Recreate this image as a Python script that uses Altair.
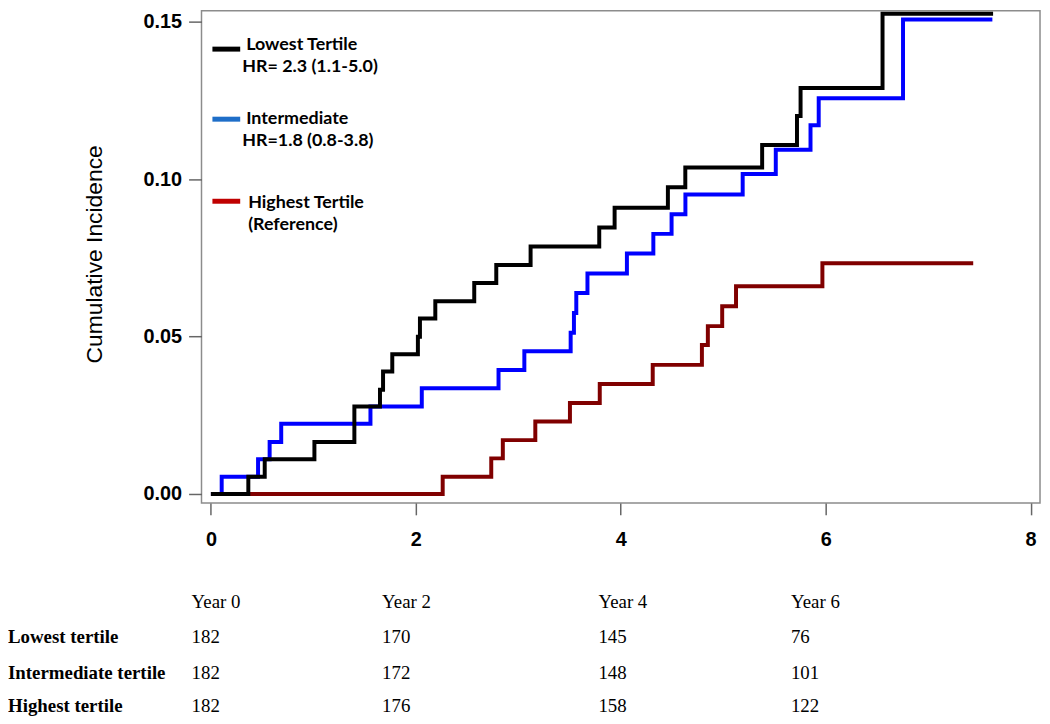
import altair as alt
import pandas as pd

# ---------------- data ----------------
series_names = ["Lowest Tertile", "Intermediate", "Highest Tertile"]

# step change points: (years, cumulative incidence) ; last point = end of follow-up
low_x = [0, 0.365, 0.525, 1.01, 1.40, 1.65, 1.68, 1.77, 2.02, 2.04, 2.19, 2.57,
         2.785, 3.12, 3.79, 3.94, 4.46, 4.63, 5.38, 5.72, 5.755, 6.555, 7.634]
low_y = [0, 0.0055, 0.011, 0.0165, 0.0278, 0.0331, 0.0389, 0.0444, 0.0499, 0.0557,
         0.0612, 0.0670, 0.0727, 0.0786, 0.0846, 0.0909, 0.0974, 0.1037, 0.1108,
         0.1200, 0.1289, 0.1525, 0.1525]

mid_x = [0, 0.105, 0.46, 0.573, 0.686, 1.557, 2.058, 2.807, 3.059, 3.511, 3.543,
         3.566, 3.675, 4.06, 4.318, 4.496, 4.631, 5.19, 5.513, 5.852, 5.932, 6.755, 7.627]
mid_y = [0, 0.0055, 0.011, 0.0165, 0.0223, 0.0278, 0.0336, 0.0394, 0.0453, 0.0512,
         0.0575, 0.0638, 0.0700, 0.0764, 0.0826, 0.0888, 0.0951, 0.1016, 0.1093,
         0.1171, 0.1257, 0.1507, 0.1507]

high_x = [0, 2.262, 2.736, 2.849, 3.166, 3.504, 3.795, 4.312, 4.792, 4.85, 4.99,
          5.125, 5.968, 7.44]
high_y = [0, 0.0055, 0.0113, 0.0171, 0.0230, 0.0289, 0.0349, 0.0410, 0.0473,
          0.0533, 0.0596, 0.0660, 0.0733, 0.0733]

x_ticks = [0, 2, 4, 6, 8]
y_ticks = [0.0, 0.05, 0.10, 0.15]

legend_names = ["Lowest Tertile", "Intermediate", "Highest Tertile"]
legend_subs = ["HR= 2.3 (1.1-5.0)", "HR=1.8 (0.8-3.8)", "(Reference)"]

table_cols = ["Year 0", "Year 2", "Year 4", "Year 6"]
table_rows = ["Lowest tertile", "Intermediate tertile", "Highest tertile"]
n_lowest = [182, 170, 145, 76]
n_intermediate = [182, 172, 148, 101]
n_highest = [182, 176, 158, 122]

# ---------------- styling ----------------
draw_order = ["Highest Tertile", "Intermediate", "Lowest Tertile"]   # bottom -> top
line_colors = ["#800000", "#0000FF", "#000000"]                       # same order
legend_colors = ["#000000", "#1E6EC8", "#C00000"]
AX_FONT = "Liberation Sans"
TAB_FONT = "Liberation Serif"
LEG_FONT = "Lato"

W, H = 845, 496
xscale = alt.Scale(domain=[-0.092, 8.092], nice=False, zero=False)
yscale = alt.Scale(domain=[-0.00284, 0.15347], nice=False, zero=False)

series_data = {
    "Lowest Tertile": (low_x, low_y),
    "Intermediate": (mid_x, mid_y),
    "Highest Tertile": (high_x, high_y),
}
frames = []
for k, name in enumerate(draw_order):
    xs, ys = series_data[name]
    frames.append(pd.DataFrame({"t": xs, "ci": ys, "series": name, "k": k}))
curves_df = pd.concat(frames, ignore_index=True)

xax = alt.Axis(values=x_ticks, format="d", title=None, grid=False, domain=False,
               tickSize=12, tickColor="#666666", tickWidth=1.5,
               labelFont=AX_FONT, labelFontSize=20, labelFontWeight="bold",
               labelColor="#000000", labelPadding=15)
yax = alt.Axis(values=y_ticks, format=".2f", grid=False, domain=False,
               tickSize=13, tickColor="#666666", tickWidth=1.5,
               labelFont=AX_FONT, labelFontSize=20, labelFontWeight="bold",
               labelColor="#000000", labelPadding=7,
               title="Cumulative Incidence", titleFont=AX_FONT, titleFontSize=23,
               titleFontWeight="normal", titleColor="#000000",
               titleX=-108, titleY=245, titleAngle=270, titleAlign="center",
               titleBaseline="middle")

curves = alt.Chart(curves_df).mark_line(
    interpolate="step-after", strokeWidth=4, clip=True
).encode(
    x=alt.X("t:Q", scale=xscale, axis=xax),
    y=alt.Y("ci:Q", scale=yscale, axis=yax),
    color=alt.Color("series:N", scale=alt.Scale(domain=draw_order, range=line_colors), legend=None),
    detail="k:O",
)

# ---------------- legend (drawn inside the plot) ----------------
leg_df = pd.DataFrame({"idx": list(range(len(legend_names))),
                       "name": legend_names, "sub": legend_subs})
idx_dom = [0, 1, 2]

leg_swatch = alt.Chart(leg_df).mark_rule(strokeWidth=5).encode(
    x=alt.value(11), x2=alt.value(39),
    y=alt.Y("idx:Q", scale=alt.Scale(domain=idx_dom, range=[38.7, 109.3, 192.0]), axis=None),
    color=alt.Color("name:N", scale=alt.Scale(domain=legend_names, range=legend_colors), legend=None),
)
leg_name = alt.Chart(leg_df).mark_text(
    align="left", baseline="alphabetic", font=LEG_FONT, fontSize=18, fontWeight="bold", color="#000000"
).encode(
    x=alt.X("idx:Q", scale=alt.Scale(domain=idx_dom, range=[45, 45, 47]), axis=None),
    y=alt.Y("idx:Q", scale=alt.Scale(domain=idx_dom, range=[39.7, 113.7, 198.7]), axis=None),
    text="name:N",
)
leg_sub = alt.Chart(leg_df).mark_text(
    align="left", baseline="alphabetic", font=LEG_FONT, fontSize=18, fontWeight="bold", color="#000000"
).encode(
    x=alt.X("idx:Q", scale=alt.Scale(domain=idx_dom, range=[41, 41, 47]), axis=None),
    y=alt.Y("idx:Q", scale=alt.Scale(domain=idx_dom, range=[62, 136, 220.5]), axis=None),
    text="sub:N",
)

# ---------------- numbers-at-risk table ----------------
col_dom = [0, 1, 2, 3]
col_range = [-10, 182, 400, 594]
row_dom = [0, 1, 2, 3]
row_range = [596, 631, 667, 701]

hdr_df = pd.DataFrame({"col": col_dom, "row": 0, "label": table_cols})
lab_df = pd.DataFrame({"row": [1, 2, 3], "label": table_rows})
num_rows = []
for r, vals in enumerate([n_lowest, n_intermediate, n_highest], start=1):
    for c, v in enumerate(vals):
        num_rows.append({"row": r, "col": c, "n": str(v)})
num_df = pd.DataFrame(num_rows)

TAB_SIZE = 19
tab_hdr = alt.Chart(hdr_df).mark_text(
    align="left", baseline="middle", font=TAB_FONT, fontSize=TAB_SIZE, color="#000000"
).encode(
    x=alt.X("col:Q", scale=alt.Scale(domain=col_dom, range=col_range), axis=None),
    y=alt.Y("row:Q", scale=alt.Scale(domain=row_dom, range=row_range), axis=None),
    text="label:N",
)
tab_lab = alt.Chart(lab_df).mark_text(
    align="left", baseline="middle", font=TAB_FONT, fontSize=TAB_SIZE, fontWeight="bold", color="#000000"
).encode(
    x=alt.value(-195),
    y=alt.Y("row:Q", scale=alt.Scale(domain=row_dom, range=row_range), axis=None),
    text="label:N",
)
tab_num = alt.Chart(num_df).mark_text(
    align="left", baseline="middle", font=TAB_FONT, fontSize=TAB_SIZE, color="#000000"
).encode(
    x=alt.X("col:Q", scale=alt.Scale(domain=col_dom, range=col_range), axis=None),
    y=alt.Y("row:Q", scale=alt.Scale(domain=row_dom, range=row_range), axis=None),
    text="n:N",
)

chart = alt.layer(
    curves, leg_swatch, leg_name, leg_sub, tab_hdr, tab_lab, tab_num
).resolve_scale(
    x="independent", y="independent", color="independent"
).properties(
    width=W, height=H,
    autosize=alt.AutoSizeParams(type="none"),
    padding={"left": 195, "top": 0, "right": 2, "bottom": 212},
    background="white",
).configure_view(
    stroke="#8c8c8c", strokeWidth=1.5
)

chart.save("out.html", embed_options={"renderer": "svg", "actions": False})
